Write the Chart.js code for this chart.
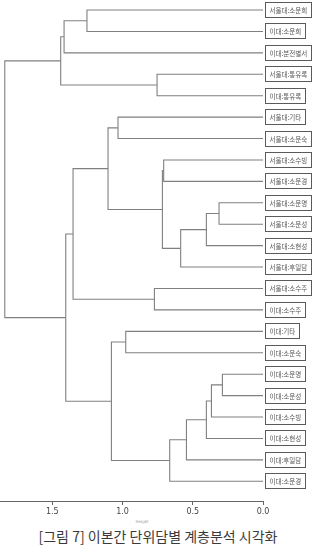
<!DOCTYPE html>
<html>
<head>
<meta charset="utf-8">
<script src="https://cdn.jsdelivr.net/npm/chart.js@4/dist/chart.umd.min.js"></script>
<style>
body { margin: 0; background: #fff; }
#wrap { position: relative; width: 321px; height: 549px; }
#caption {
	position: absolute; left: 0; width: 316px; top: 526px;
	text-align: center; font-family: "Noto Sans CJK KR", sans-serif;
	font-size: 14px; color: #3a3a3a;
}
</style>
</head>
<body>
<div id="wrap">
	<canvas id="dendro" width="321" height="526"></canvas>
	<div id="caption">[그림 7] 이본간 단위담별 계층분석 시각화</div>
</div>
<script>
// leaf labels, top to bottom
var leafLabels = [
	"서울대:소운희", "이대:소운희", "이대:분전별서", "서울대:통유록", "이대:통유록",
	"서울대:기타", "서울대:소운숙", "서울대:소수빙", "서울대:소운경", "서울대:소운명",
	"서울대:소운성", "서울대:소현성", "서울대:후일담", "서울대:소수주", "이대:소수주",
	"이대:기타", "이대:소운숙", "이대:소운명", "이대:소운성", "이대:소수빙",
	"이대:소현성", "이대:후일담", "이대:소운경"
];

// hclust style merges: negative = leaf (1-based), positive = earlier merge row (1-based)
var mergeLeft   = [-10, -18,  2,   1,   3,   4,   5,  -8,   8,   7,  -4, -14, -16,  -6,  14,  13,  -1,  15,  18,  17,  20,  21];
var mergeRight  = [-11, -19, -20, -12, -21, -13, -22, -9,   6, -23, -5, -15, -17,  -7,   9,  10,  -2,  12,  16,  -3,  11,  19];
var mergeHeight = [0.313, 0.289, 0.367, 0.403, 0.403, 0.586, 0.545, 0.707, 0.716, 0.664, 0.754, 0.773,
	0.977, 1.032, 1.103, 1.079, 1.253, 1.352, 1.404, 1.416, 1.44, 1.838];

var xTicks = [0, 0.5, 1.0, 1.5];

var nodeY = [];
function childPos(ref) {
	if (ref < 0) {
		return { x: 0, y: -ref };
	}
	return { x: mergeHeight[ref - 1], y: nodeY[ref - 1] };
}

var datasets = [];
for (var i = 0; i < mergeHeight.length; i++) {
	var a = childPos(mergeLeft[i]);
	var b = childPos(mergeRight[i]);
	var h = mergeHeight[i];
	nodeY.push((a.y + b.y) / 2);
	datasets.push({
		data: [{ x: a.x, y: a.y }, { x: h, y: a.y }, { x: h, y: b.y }, { x: b.x, y: b.y }],
		showLine: true,
		borderColor: "#808080",
		borderWidth: 1.1,
		pointRadius: 0,
		tension: 0
	});
}

var leafBoxes = {
	id: "leafBoxes",
	afterDatasetsDraw: function(chart) {
		var ctx = chart.ctx;
		var ys = chart.scales.y;
		var xs = chart.scales.x;
		var left = chart.chartArea.right + 2;
		ctx.save();
		ctx.font = "6.5px 'Noto Sans CJK KR'";
		ctx.textBaseline = "middle";
		for (var i = 0; i < leafLabels.length; i++) {
			var y = Math.round(ys.getPixelForValue(i + 1));
			var w = Math.round(ctx.measureText(leafLabels[i]).width + 8);
			ctx.fillStyle = "#fff";
			ctx.fillRect(left, y - 7, w, 15);
			ctx.strokeStyle = "#5a5a5a";
			ctx.lineWidth = 1;
			ctx.strokeRect(left + 0.5, y - 7.5, w, 15);
			ctx.fillStyle = "#555";
			ctx.textAlign = "left";
			ctx.fillText(leafLabels[i], left + 4.5, y + 0.5);
		}
		// axis title
		ctx.font = "4px 'DejaVu Sans'";
		ctx.fillStyle = "#999";
		ctx.textAlign = "center";
		ctx.fillText("Height", xs.getPixelForValue(0.86), chart.chartArea.bottom + 21);
		ctx.restore();
	}
};

new Chart(document.getElementById("dendro"), {
	type: "scatter",
	data: { datasets: datasets },
	options: {
		responsive: false,
		animation: false,
		devicePixelRatio: 1,
		layout: { padding: { left: 0, right: 58, top: 0, bottom: 0 } },
		plugins: { legend: { display: false }, tooltip: { enabled: false } },
		scales: {
			x: {
				type: "linear",
				reverse: true,
				min: 0,
				max: 1.872,
				afterBuildTicks: function(scale) {
					scale.ticks = xTicks.map(function(v) { return { value: v }; });
				},
				afterFit: function(scale) { scale.height = 25; },
				ticks: {
					includeBounds: false,
					padding: 2,
					color: "#444",
					font: { family: "DejaVu Sans", size: 8 },
					callback: function(v) { return Number(v).toFixed(1); }
				},
				grid: { drawOnChartArea: false, tickLength: 4, color: "#666" },
				border: { display: true, color: "#666", width: 1 }
			},
			y: {
				type: "linear",
				display: false,
				reverse: true,
				min: 0.533,
				max: 23.92
			}
		}
	},
	plugins: [leafBoxes]
});
</script>
</body>
</html>
